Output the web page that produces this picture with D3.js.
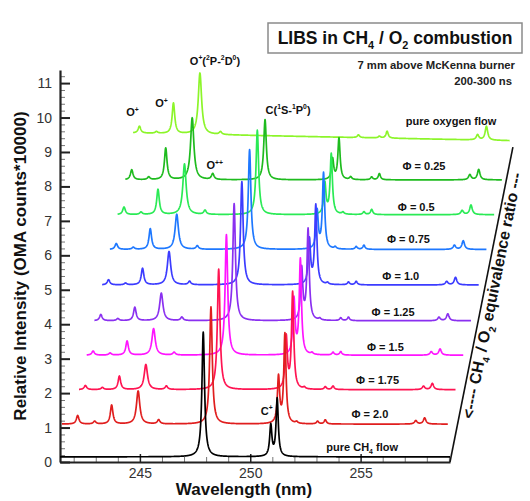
<!DOCTYPE html>
<html>
<head>
<meta charset="utf-8">
<script src="https://cdn.jsdelivr.net/npm/d3@7"></script>
<style>
    body { margin: 0; background: #fff; }
    text { font-family: Arial, "Liberation Sans", sans-serif; }
</style>
</head>
<body>
<div id="chart"></div>
<script>
'use strict';

/*
Data
 */

// Spectra, bottom to top
const spectrumNames = ['pure CH_{4} flow', 'Φ = 2.0', 'Φ = 1.75', 'Φ = 1.5', 'Φ = 1.25',
    'Φ = 1.0', 'Φ = 0.75', 'Φ = 0.5', 'Φ = 0.25', 'pure oxygen flow'];
const spectrumColors = ['#000000', '#e01e1e', '#ff1452', '#ff14ff', '#8a30f0',
    '#3c3cff', '#1e78ff', '#2aea55', '#1ebb1e', '#8cf52a'];

// Baseline level at left / right end of each spectrum (OMA counts*10000)
const baseLeft = [0.15, 1.1, 2.1, 3.1, 4.1, 5.14, 6.17, 7.18, 8.19, 9.55];
const baseRight = [0.15, 1.1, 2.1, 3.1, 4.1, 5.14, 6.17, 7.18, 8.19, 9.33];

// Recorded wavelength window of each spectrum (nm, before waterfall shift)
const rangeStart = [241.38, 241.12, 241.54, 241.54, 241.54, 241.54, 241.54, 241.54, 241.54, 241.54];
const rangeEnd = [259.05, 258.6, 258.6, 258.6, 258.6, 258.6, 258.6, 258.6, 258.6, 258.6];

// Emission lines: centre (nm) and half width (nm)
const lineCentres = [241.83, 242.6, 243.37, 244.57, 245.5, 247.87, 250.93, 251.22, 251.75, 252.7, 253.05, 257.15, 257.55];
const lineHalfWidths = [0.07, 0.07, 0.07, 0.09, 0.07, 0.07, 0.06, 0.06, 0.06, 0.06, 0.06, 0.07, 0.07];

// Line heights above baseline, one row per spectrum
const lineHeights = [
    [0, 0, 0, 0, 0, 3.62, 0.9, 1.68, 0, 0, 0, 0, 0],
    [0.25, 0.08, 0.55, 0.96, 0.12, 3.4, 1.34, 2.6, 0.05, 0.08, 0.12, 0.1, 0.18],
    [0.12, 0.06, 0.39, 0.73, 0.1, 3.5, 1.5, 2.8, 0.05, 0.08, 0.1, 0.1, 0.18],
    [0.12, 0.06, 0.41, 0.77, 0.08, 3.5, 1.6, 2.76, 0.05, 0.08, 0.1, 0.1, 0.18],
    [0.18, 0.06, 0.39, 0.8, 0.1, 3.4, 1.5, 2.63, 0.05, 0.08, 0.1, 0.1, 0.2],
    [0.15, 0.05, 0.48, 0.97, 0.1, 3.0, 1.3, 2.3, 0.05, 0.08, 0.1, 0.1, 0.22],
    [0.17, 0.06, 0.6, 1.02, 0.1, 2.9, 1.1, 2.2, 0.06, 0.08, 0.12, 0.12, 0.25],
    [0.22, 0.07, 0.73, 1.47, 0.12, 2.45, 0.9, 1.75, 0.06, 0.08, 0.15, 0.12, 0.28],
    [0.29, 0.08, 0.92, 1.8, 0.17, 1.75, 0.6, 1.2, 0.08, 0.08, 0.18, 0.15, 0.3],
    [0.2, 0.05, 0.89, 1.78, 0.08, 0, 0, 0, 0.08, 0.05, 0.2, 0.15, 0.4]
];

// Peak labels: text, spectrum, line
const peakLabels = ['O^{+}', 'O^{+}', 'O^{+}(^{2}P-^{2}D^{0})', 'O^{++}', 'C(^{1}S-^{1}P^{0})', 'C^{+}'];
const peakSpectra = [9, 9, 9, 8, 8, 0];
const peakLines = [0, 2, 3, 4, 5, 6];

// Axes
const xTicks = [245, 250, 255];
const yTicks = [0, 1, 2, 3, 4, 5, 6, 7, 8, 9, 10, 11];

/*
Waterfall
 */

class Waterfall {

    // Configs
    svgW = 530;
    svgH = 501;
    plot = {left: 60, right: 450, top: 70, bottom: 462};
    xDomain = [241.38, 259.05];
    yDomain = [0, 11.38];
    shift = 0.35;               // nm per spectrum step
    sampleStep = 0.01;
    depthEnd = [261.9, 9.14];   // end of the slanted depth axis
    peakOffsets = [[-7, -14], [-12, 1], [15, -11], [2, -9], [23, -10], [-4, -15]];
    nameLifts = [0.29, 0.29, 0.27, 0.25, 0.26, 0.25, 0.3, 0.22, 0.4, 0.58];

    constructor(_target) {
        this.target = _target;
        this.init();
    }

    /*
    1. Init
     */
    init() {
        const vis = this;

        vis.svg = d3.select(`#${vis.target}`)
            .append('svg')
            .attr('width', vis.svgW)
            .attr('height', vis.svgH);

        vis.xScale = d3.scaleLinear().domain(vis.xDomain).range([vis.plot.left, vis.plot.right]);
        vis.yScale = d3.scaleLinear().domain(vis.yDomain).range([vis.plot.bottom, vis.plot.top]);

        vis.wrangle();
    }

    /*
    2. Wrangle
     */
    wrangle() {
        const vis = this;

        vis.displayData = spectrumNames.map((name, i) => {
            const start = rangeStart[i];
            const end = rangeEnd[i];
            let wls = d3.range(start, end, vis.sampleStep).concat([end]);
            lineCentres.forEach(c => { if (c > start && c < end) wls.push(c); });
            wls.sort((a, b) => a - b);
            const points = wls.map(wl => {
                const t = (wl - start) / (end - start);
                let v = baseLeft[i] + (baseRight[i] - baseLeft[i]) * t;
                lineCentres.forEach((c, k) => {
                    const g = lineHalfWidths[k];
                    v += lineHeights[i][k] * g * g / ((wl - c) * (wl - c) + g * g);
                });
                return [wl, v];
            });
            return {name: name, color: spectrumColors[i], index: i, points: points};
        });

        vis.render();
    }

    /*
    3. Render
     */
    render() {
        const vis = this;
        const x = vis.xScale;
        const y = vis.yScale;

        // Axes
        const yMinor = d3.range(0, 11.4, 0.2).filter(v => Math.abs(v - Math.round(v)) > 0.01);
        vis.svg.append('g')
            .attr('class', 'yMinor')
            .attr('transform', `translate(${vis.plot.left},0)`)
            .call(d3.axisLeft(y).tickValues(yMinor).tickSizeInner(-5).tickSizeOuter(0).tickFormat(''))
            .call(g => g.select('.domain').remove())
            .call(g => g.selectAll('line').attr('stroke', '#777').attr('stroke-width', 1));
        const xMinor = d3.range(242, 259.5, 1).filter(v => !xTicks.includes(v));
        vis.svg.append('g')
            .attr('class', 'xMinor')
            .attr('transform', `translate(0,${vis.plot.bottom})`)
            .call(d3.axisBottom(x).tickValues(xMinor).tickSizeInner(-5).tickSizeOuter(0).tickFormat(''))
            .call(g => g.select('.domain').remove())
            .call(g => g.selectAll('line').attr('stroke', '#777').attr('stroke-width', 1));

        vis.svg.append('g')
            .attr('class', 'yAxis')
            .attr('transform', `translate(${vis.plot.left},0)`)
            .call(d3.axisLeft(y).tickValues(yTicks).tickSizeInner(-10).tickSizeOuter(0).tickPadding(8))
            .call(g => g.select('.domain').attr('stroke', '#222').attr('stroke-width', 2.2))
            .call(g => g.selectAll('line').attr('stroke', '#222').attr('stroke-width', 2))
            .call(g => g.selectAll('text').attr('font-size', 14).attr('fill', '#333').attr('font-family', 'Arial, "Liberation Sans", sans-serif'));
        vis.svg.append('g')
            .attr('class', 'xAxis')
            .attr('transform', `translate(0,${vis.plot.bottom})`)
            .call(d3.axisBottom(x).tickValues(xTicks).tickSizeInner(-8).tickSizeOuter(0).tickPadding(6))
            .call(g => g.select('.domain').attr('stroke', '#222').attr('stroke-width', 2.2))
            .call(g => g.selectAll('line').attr('stroke', '#222').attr('stroke-width', 1.5))
            .call(g => g.selectAll('text').attr('font-size', 14).attr('fill', '#333').attr('font-family', 'Arial, "Liberation Sans", sans-serif'));

        // Depth axis
        vis.svg.append('line')
            .attr('x1', x(vis.xDomain[1])).attr('y1', y(0))
            .attr('x2', x(vis.depthEnd[0])).attr('y2', y(vis.depthEnd[1]))
            .attr('stroke', '#111').attr('stroke-width', 1.6);

        // Spectra, top one first so lower spectra lie over it
        const lineMaker = d3.line();
        vis.svg.append('g')
            .attr('class', 'spectraG')
            .selectAll('path')
            .data(vis.displayData.slice().reverse())
            .join('path')
            .attr('fill', 'none')
            .attr('stroke', d => d.color)
            .attr('stroke-width', 1.7)
            .attr('stroke-linejoin', 'round')
            .attr('d', d => lineMaker(d.points.map(p => [x(p[0] + d.index * vis.shift), y(p[1])])));

        // Spectrum names
        vis.displayData.forEach((d, i) => {
            const wl = (i === 9 ? 255.95 : 255.07) + i * vis.shift;
            const t = vis.svg.append('text')
                .attr('x', x(wl))
                .attr('y', y(baseRight[i] + vis.nameLifts[i]) + 4)
                .attr('text-anchor', 'middle')
                .attr('font-weight', 'bold')
                .attr('font-size', 11)
                .attr('fill', '#111');
            richText(t, d.name, 11);
        });

        // Peak labels
        peakLabels.forEach((lab, j) => {
            const i = peakSpectra[j];
            const k = peakLines[j];
            const px = x(lineCentres[k] + i * vis.shift) + vis.peakOffsets[j][0];
            const py = y(baseLeft[i] + lineHeights[i][k]) + vis.peakOffsets[j][1] + 4;
            const t = vis.svg.append('text')
                .attr('x', px).attr('y', py)
                .attr('text-anchor', 'middle')
                .attr('font-weight', 'bold')
                .attr('font-size', 11)
                .attr('fill', '#111');
            richText(t, lab, 11);
        });

        // Title box
        vis.svg.append('rect')
            .attr('x', 268).attr('y', 23).attr('width', 254).attr('height', 30)
            .attr('fill', '#fff').attr('stroke', '#8a8a8a').attr('stroke-width', 1.5);
        richText(vis.svg.append('text')
            .attr('x', 395).attr('y', 44).attr('text-anchor', 'middle')
            .attr('font-weight', 'bold').attr('font-size', 17.5).attr('fill', '#111'),
            'LIBS in CH_{4} / O_{2} combustion', 17.5);
        vis.svg.append('text')
            .attr('x', 515).attr('y', 69).attr('text-anchor', 'end')
            .attr('font-weight', 'bold').attr('font-size', 11.3).attr('fill', '#222')
            .text('7 mm above McKenna burner');
        vis.svg.append('text')
            .attr('x', 512).attr('y', 85).attr('text-anchor', 'end')
            .attr('font-weight', 'bold').attr('font-size', 11.3).attr('fill', '#222')
            .text('200-300 ns');

        // Axis titles
        vis.svg.append('text')
            .attr('transform', 'translate(26,266) rotate(-90)')
            .attr('text-anchor', 'middle')
            .attr('font-weight', 'bold').attr('font-size', 17).attr('fill', '#111')
            .text('Relative Intensity (OMA counts*10000)');
        vis.svg.append('text')
            .attr('x', 244).attr('y', 495)
            .attr('text-anchor', 'middle')
            .attr('font-weight', 'bold').attr('font-size', 17).attr('fill', '#111')
            .text('Wavelength (nm)');

        // Depth axis title
        const x1 = x(vis.xDomain[1]), y1 = y(0);
        const x2 = x(vis.depthEnd[0]), y2 = y(vis.depthEnd[1]);
        const ang = Math.atan2(y2 - y1, x2 - x1) * 180 / Math.PI;
        const mx = (x1 + x2) / 2 + 16, my = (y1 + y2) / 2 - 8;
        richText(vis.svg.append('text')
            .attr('transform', `translate(${mx},${my}) rotate(${ang})`)
            .attr('text-anchor', 'middle')
            .attr('dy', '0.35em')
            .attr('font-weight', 'bold').attr('font-size', 16).attr('fill', '#111'),
            '<---- CH_{4} / O_{2} equivalence ratio ---', 16);
    }
}

/* richText: plain text with _{sub} and ^{sup} parts */
function richText(textSel, str, size) {
    const parts = str.split(/(_\{[^}]*\}|\^\{[^}]*\})/).filter(s => s.length);
    let shift = 0;
    parts.forEach(p => {
        let kind = null, s = p;
        if (p.startsWith('_{')) { kind = 'sub'; s = p.slice(2, -1); }
        else if (p.startsWith('^{')) { kind = 'sup'; s = p.slice(2, -1); }
        const target = kind === 'sub' ? size * 0.3 : kind === 'sup' ? -size * 0.4 : 0;
        textSel.append('tspan')
            .attr('dy', target - shift)
            .attr('font-size', kind ? size * 0.62 : size)
            .text(s);
        shift = target;
    });
}

new Waterfall('chart');
</script>
</body>
</html>
